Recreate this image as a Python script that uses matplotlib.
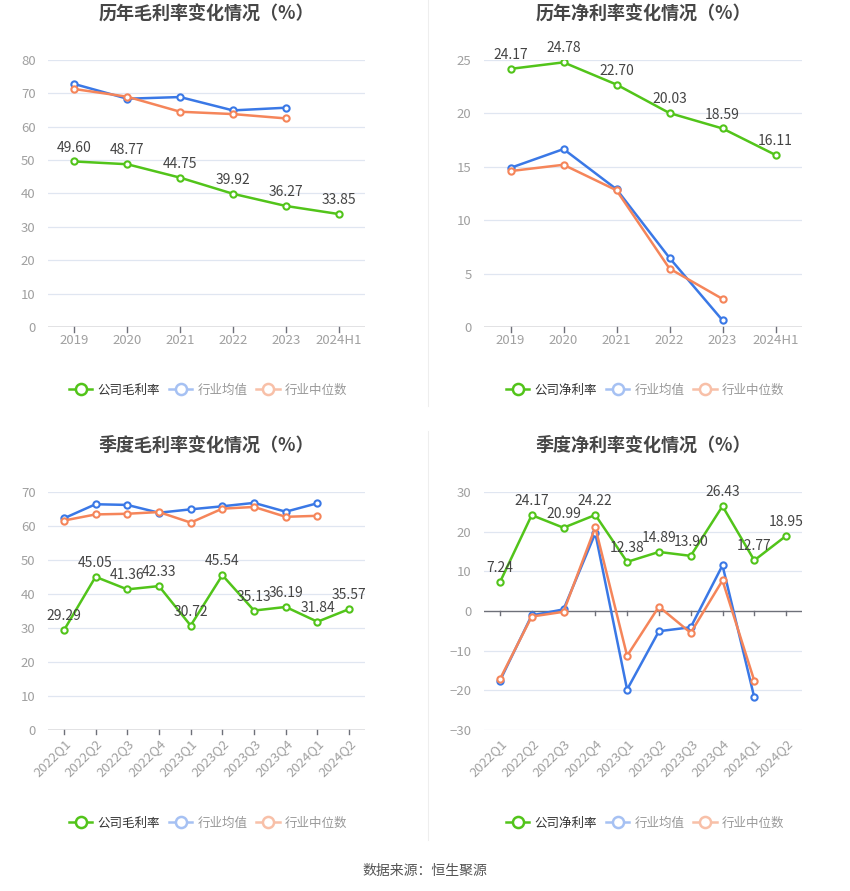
import matplotlib
matplotlib.use("Agg")
import matplotlib.pyplot as plt
from matplotlib.lines import Line2D

plt.rcParams['font.family'] = ['Noto Sans CJK SC', 'DejaVu Sans']

# ---------------- data ----------------
years = ['2019', '2020', '2021', '2022', '2023', '2024H1']
gross_company = [49.60, 48.77, 44.75, 39.92, 36.27, 33.85]
gross_ind_avg = [72.8, 68.4, 68.9, 64.9, 65.7]
gross_ind_med = [71.3, 69.0, 64.5, 63.8, 62.5]

net_company = [24.17, 24.78, 22.70, 20.03, 18.59, 16.11]
net_ind_avg = [14.9, 16.66, 12.9, 6.47, 0.63]
net_ind_med = [14.6, 15.19, 12.8, 5.47, 2.63]

quarters = ['2022Q1', '2022Q2', '2022Q3', '2022Q4', '2023Q1', '2023Q2',
            '2023Q3', '2023Q4', '2024Q1', '2024Q2']
q_gross_company = [29.29, 45.05, 41.36, 42.33, 30.72, 45.54, 35.13, 36.19, 31.84, 35.57]
q_gross_ind_avg = [62.25, 66.4, 66.2, 63.9, 64.9, 65.8, 66.8, 64.2, 66.7]
q_gross_ind_med = [61.6, 63.4, 63.6, 64.1, 61.0, 65.1, 65.6, 62.7, 63.0]

q_net_company = [7.24, 24.17, 20.99, 24.22, 12.38, 14.89, 13.90, 26.43, 12.77, 18.95]
q_net_ind_avg = [-17.6, -1.1, 0.4, 19.6, -19.8, -5.1, -4.1, 11.5, -21.8]
q_net_ind_med = [-17.2, -1.4, -0.2, 21.1, -11.3, 1.1, -5.5, 7.7, -17.6]

titles = ['历年毛利率变化情况（%）', '历年净利率变化情况（%）',
          '季度毛利率变化情况（%）', '季度净利率变化情况（%）']
legend_gross = ['公司毛利率', '行业均值', '行业中位数']
legend_net = ['公司净利率', '行业均值', '行业中位数']
source_text = '数据来源：恒生聚源'

# ---------------- style ----------------
W, H = 850, 891
GREEN = '#52c41a'
BLUE = '#3a78e6'
ORANGE = '#f5855a'
BLUE_L = '#a6c1f3'
ORANGE_L = '#f8c0a8'
GRID = '#e0e6f1'
AXIS = '#6e7079'
TICK = '#a0a0a0'

fig = plt.figure(figsize=(W / 100, H / 100), dpi=100)
fig.patch.set_facecolor('white')


def px_axes(left, top, right, bottom):
    return fig.add_axes([left / W, 1 - bottom / H, (right - left) / W, (bottom - top) / H])


def draw(ax, cats, comp, avg, med, ylim, yticks, rotate):
    n = len(cats)
    x = list(range(n))
    ax.set_xlim(-0.5, n - 0.5)
    ax.set_ylim(*ylim)
    ax.set_yticks(yticks)
    for y in yticks:
        if y != 0:
            ax.axhline(y, color=GRID, lw=0.9, zorder=0)
    ax.axhline(0, color=AXIS, lw=1.0, zorder=1)
    for s in ax.spines.values():
        s.set_visible(False)
    ax.tick_params(axis='y', length=0, colors=TICK, labelsize=9.5, pad=9)
    ax.set_xticks(x)
    if rotate:
        ax.set_xticklabels(cats, rotation=45, ha='right', va='top', rotation_mode='anchor')
    else:
        ax.set_xticklabels(cats)
    ax.tick_params(axis='x', length=0, colors=TICK, labelsize=9.5, pad=5)
    yr = ylim[1] - ylim[0]
    for xi in x:
        ax.plot([xi, xi], [0, -yr * 0.018], color=AXIS, lw=1.0, clip_on=False, zorder=1)
    mk = dict(marker='o', markersize=4.5, markerfacecolor='white', markeredgewidth=1.5)
    ax.plot(x[:len(avg)], avg, color=BLUE, lw=1.8, markeredgecolor=BLUE, zorder=3, **mk)
    ax.plot(x[:len(med)], med, color=ORANGE, lw=1.8, markeredgecolor=ORANGE, zorder=3, **mk)
    ax.plot(x, comp, color=GREEN, lw=1.8, markeredgecolor=GREEN, zorder=4, **mk)
    for xi, v in zip(x, comp):
        ax.annotate(f'{v:.2f}', (xi, v), xytext=(0, 5), textcoords='offset points',
                    ha='center', va='bottom', fontsize=10, color='#444444', zorder=5)


ax1 = px_axes(48, 60, 365, 327)
draw(ax1, years, gross_company, gross_ind_avg, gross_ind_med, (0, 80), range(0, 81, 10), False)
ax2 = px_axes(484, 60, 802, 327)
draw(ax2, years, net_company, net_ind_avg, net_ind_med, (0, 25), range(0, 26, 5), False)
ax3 = px_axes(48, 492, 365, 730)
draw(ax3, quarters, q_gross_company, q_gross_ind_avg, q_gross_ind_med, (0, 70), range(0, 71, 10), True)
ax4 = px_axes(484, 492, 802, 730)
draw(ax4, quarters, q_net_company, q_net_ind_avg, q_net_ind_med, (-30, 30), range(-30, 31, 10), True)

# titles
for (cx, cy), t in zip([(206, 14), (643, 14), (206, 445), (643, 445)], titles):
    fig.text(cx / W, 1 - cy / H, t, ha='center', va='center', fontsize=13,
             fontweight='bold', color='#464646')

# legends
for (cx, cy), labels in zip([(208, 390), (645, 390), (208, 823), (645, 823)],
                            [legend_gross, legend_net, legend_gross, legend_net]):
    hs = [Line2D([], [], color=GREEN, lw=1.8, marker='o', markersize=8,
                 markerfacecolor='white', markeredgecolor=GREEN, markeredgewidth=1.8),
          Line2D([], [], color=BLUE_L, lw=1.8, marker='o', markersize=8,
                 markerfacecolor='white', markeredgecolor=BLUE_L, markeredgewidth=1.8),
          Line2D([], [], color=ORANGE_L, lw=1.8, marker='o', markersize=8,
                 markerfacecolor='white', markeredgecolor=ORANGE_L, markeredgewidth=1.8)]
    lg = fig.legend(hs, labels, loc='center', bbox_to_anchor=(cx / W, 1 - cy / H),
                    ncol=3, frameon=False, fontsize=9, handlelength=1.9,
                    handletextpad=0.4, columnspacing=0.7)
    txts = lg.get_texts()
    txts[0].set_color('#333333')
    txts[1].set_color('#999999')
    txts[2].set_color('#999999')

# dividers
fig.add_artist(Line2D([427.5 / W, 427.5 / W], [1 - 0 / H, 1 - 406 / H], color='#eeeeee', lw=0.8))
fig.add_artist(Line2D([427.5 / W, 427.5 / W], [1 - 431 / H, 1 - 840 / H], color='#eeeeee', lw=0.8))

fig.text(425 / W, 1 - 871 / H, source_text, ha='center', va='center', fontsize=10, color='#555555')

fig.savefig('out.png', dpi=100, facecolor='white')
